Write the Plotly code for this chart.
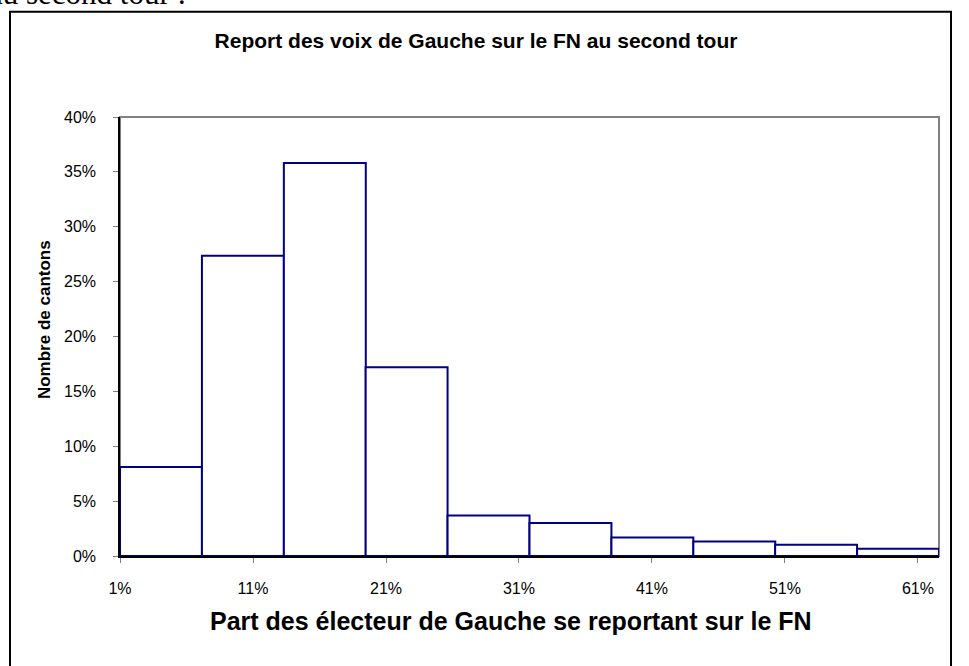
import plotly.graph_objects as go

# Data
bin_starts = [1.00, 7.16, 13.32, 19.47, 25.63, 31.79, 37.95, 44.11, 50.26, 56.42]  # % of left voters
bin_width = 6.16
shares = [8.1, 27.35, 35.8, 17.2, 3.7, 3.0, 1.68, 1.32, 1.02, 0.65]  # % of cantons
x_tick_vals = [1, 11, 21, 31, 41, 51, 61]
x_tick_text = ["1%", "11%", "21%", "31%", "41%", "51%", "61%"]
y_tick_vals = [0, 5, 10, 15, 20, 25, 30, 35, 40]
y_tick_text = ["0%", "5%", "10%", "15%", "20%", "25%", "30%", "35%", "40%"]

W, H = 969, 666
L, R, T, B = 120, 30, 116.5, 109.5
PW, PH = W - L - R, H - T - B

def px(x):
    return (x - L) / PW

def py(y):
    return (H - B - y) / PH

FONT = "Liberation Sans, Arial, sans-serif"
NAVY = "#000080"

fig = go.Figure()
fig.add_trace(go.Bar(
    x=[s + bin_width / 2 for s in bin_starts],
    y=shares,
    width=bin_width,
    marker=dict(color="white", line=dict(color=NAVY, width=2)),
    hoverinfo="skip",
))

fig.update_layout(
    width=W, height=H,
    margin=dict(l=L, r=R, t=T, b=B, pad=0),
    paper_bgcolor="white", plot_bgcolor="white",
    showlegend=False,
    font=dict(family=FONT, color="black"),
    title=dict(
        text="<b>Report des voix de Gauche sur le FN au second tour</b>",
        font=dict(family=FONT, size=21, color="black"),
        x=px(476), xref="paper", xanchor="center",
        y=1 - 41 / H, yref="container", yanchor="middle",
    ),
    xaxis=dict(
        range=[1, 62.58], tickmode="array", tickvals=x_tick_vals, ticktext=x_tick_text,
        showgrid=False, zeroline=False, showline=True, linecolor="black", linewidth=1.5,
        ticks="outside", ticklen=5, tickcolor="#808080", tickwidth=1,
        tickfont=dict(family=FONT, size=16, color="black"), ticklabelstandoff=12,
    ),
    yaxis=dict(
        range=[0, 40], tickmode="array", tickvals=y_tick_vals, ticktext=y_tick_text,
        showgrid=False, zeroline=False, showline=True, linecolor="black", linewidth=1.5,
        ticks="outside", ticklen=5, tickcolor="#808080", tickwidth=1,
        tickfont=dict(family=FONT, size=16, color="black"), ticklabelstandoff=14,
    ),
    shapes=[
        # plot area border (gray)
        dict(type="rect", xref="paper", yref="paper", x0=0, x1=1, y0=0, y1=1,
             line=dict(color="#808080", width=2), layer="below"),
        # outer frame (black)
        dict(type="rect", xref="paper", yref="paper",
             x0=px(10), x1=px(951), y0=py(700), y1=py(11),
             line=dict(color="black", width=2)),
    ],
    annotations=[
        dict(text="<b>Part des électeur de Gauche se reportant sur le FN</b>",
             xref="paper", yref="paper", x=px(511), y=py(622),
             xanchor="center", yanchor="middle", showarrow=False,
             font=dict(family=FONT, size=25, color="black")),
        dict(text="<b>Nombre de cantons</b>",
             xref="paper", yref="paper", x=px(44), y=py(320),
             xanchor="center", yanchor="middle", showarrow=False, textangle=-90,
             font=dict(family=FONT, size=17, color="black")),
        dict(text="au second tour :",
             xref="paper", yref="paper", x=px(188), y=py(12),
             xanchor="right", yanchor="bottom", showarrow=False,
             font=dict(family="Liberation Serif, Times New Roman, serif", size=31, color="black")),
    ],
)

fig.write_html("out.html", config={"displayModeBar": False},
               post_script="document.body.style.margin='0';document.body.style.padding='0';")
